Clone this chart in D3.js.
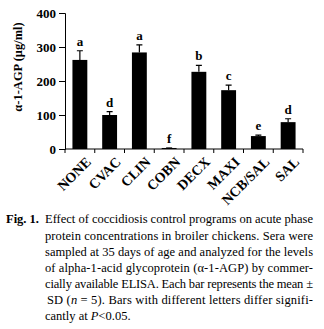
<!DOCTYPE html>
<html>
<head>
<meta charset="utf-8">
<script src="https://cdn.jsdelivr.net/npm/d3@7"></script>
<style>
  body { margin: 0; background: #fff; }
  text { font-family: "Liberation Serif", "Times New Roman", serif; }
</style>
</head>
<body>
<svg id="chart" width="324" height="329"></svg>
<script>
// data
var groups = ['NONE', 'CVAC', 'CLIN', 'COBN', 'DECX', 'MAXI', 'NCB/SAL', 'SAL']
var means = [262, 100, 284, 3, 227, 173, 38, 79]
var sds = [27, 10, 22, 0, 19, 15, 3, 10]
var letters = ['a', 'd', 'a', 'f', 'b', 'c', 'e', 'd']
var yTicks = [0, 100, 200, 300, 400]

var captionLines = [
  'protein concentrations in broiler chickens. Sera were',
  'sampled at 35 days of age and analyzed for the levels',
  'of alpha-1-acid glycoprotein (\u03b1-1-AGP) by commer-',
  'cially available ELISA. Each bar represents the mean \u00b1'
]

var svg = d3.select('#chart')
var plotLeft = 65, plotRight = 303, plotTop = 13, plotBottom = 149

var x = d3.scaleBand().domain(groups).range([plotLeft, plotRight]).paddingInner(0.5).paddingOuter(0.25)
var y = d3.scaleLinear().domain([0, 400]).range([plotBottom, plotTop])

// y axis
let yAxis = svg.append('g')
  .attr('transform', 'translate(' + plotLeft + ',0)')
  .call(d3.axisLeft(y).tickValues(yTicks).tickSize(6).tickPadding(3))
yAxis.select('.domain').attr('stroke', '#000').attr('stroke-width', 1)
yAxis.selectAll('text')
  .attr('font-family', '"Liberation Serif", serif')
  .attr('font-weight', 'bold').attr('font-size', 13).attr('fill', '#000')

// x axis with ticks between bars
let xAxis = svg.append('g').attr('transform', 'translate(0,' + plotBottom + ')')
xAxis.append('line').attr('x1', plotLeft).attr('x2', plotRight).attr('stroke', '#000')
let boundaries = groups.map((g, i) => plotLeft + i * (plotRight - plotLeft) / groups.length).concat([plotRight])
xAxis.selectAll('.tk').data(boundaries).enter().append('line')
  .attr('x1', d => d).attr('x2', d => d).attr('y1', 0).attr('y2', 4).attr('stroke', '#000')
xAxis.selectAll('.lbl').data(groups).enter().append('text')
  .attr('transform', d => 'translate(' + (x(d) + x.bandwidth() / 2 + 5) + ',7) rotate(-45)')
  .attr('text-anchor', 'end').attr('dy', '0.7em')
  .attr('font-weight', 'bold').attr('font-size', 14)
  .text(d => d)

// bars
svg.selectAll('.bar').data(groups).enter().append('rect')
  .attr('x', d => x(d)).attr('width', x.bandwidth())
  .attr('y', (d, i) => y(means[i])).attr('height', (d, i) => plotBottom - y(means[i]))
  .attr('fill', '#000')

// error bars (upper half only)
let cap = 3
svg.selectAll('.err').data(groups).enter().append('path')
  .attr('d', (d, i) => {
    let cx = x(d) + x.bandwidth() / 2
    return 'M' + cx + ',' + y(means[i]) + 'V' + y(means[i] + sds[i]) +
      'M' + (cx - cap) + ',' + y(means[i] + sds[i]) + 'H' + (cx + cap)
  })
  .attr('stroke', '#000').attr('stroke-width', 1.2).attr('fill', 'none')

// significance letters
svg.selectAll('.let').data(groups).enter().append('text')
  .attr('x', d => x(d) + x.bandwidth() / 2)
  .attr('y', (d, i) => y(means[i] + sds[i]) - 5)
  .attr('text-anchor', 'middle').attr('font-weight', 'bold').attr('font-size', 13)
  .text((d, i) => letters[i])

// y axis title
svg.append('text')
  .attr('transform', 'translate(22,' + 67 + ') rotate(-90)')
  .attr('text-anchor', 'middle').attr('font-weight', 'bold').attr('font-size', 12.5)
  .text('\u03b1-1-AGP (\u03bcg/ml)')

// caption
let capSize = 12.5, capLeft = 45, capRight = 313
let first = svg.append('g')
first.append('text').attr('x', 6).attr('y', 223).attr('font-weight', 'bold').attr('font-size', capSize).text('Fig. 1.')
first.append('text').attr('x', capLeft).attr('y', 223).attr('font-size', capSize)
  .attr('textLength', capRight - capLeft).attr('lengthAdjust', 'spacing')
  .text('Effect of coccidiosis control programs on acute phase')

captionLines.forEach((line, i) => {
  svg.append('text').attr('x', capLeft).attr('y', 239.5 + i * 16).attr('font-size', capSize)
    .attr('textLength', capRight - capLeft).attr('lengthAdjust', 'spacing')
    .text(line)
})

let l6 = svg.append('text').attr('x', capLeft + 2).attr('y', 303.5).attr('font-size', capSize)
  .attr('textLength', capRight - capLeft - 2).attr('lengthAdjust', 'spacing')
l6.append('tspan').text('SD (')
l6.append('tspan').attr('font-style', 'italic').text('n')
l6.append('tspan').text(' = 5). Bars with different letters differ signifi-')

let l7 = svg.append('text').attr('x', capLeft).attr('y', 319.5).attr('font-size', capSize)
l7.append('tspan').text('cantly at ')
l7.append('tspan').attr('font-style', 'italic').text('P')
l7.append('tspan').text('<0.05.')
</script>
</body>
</html>
